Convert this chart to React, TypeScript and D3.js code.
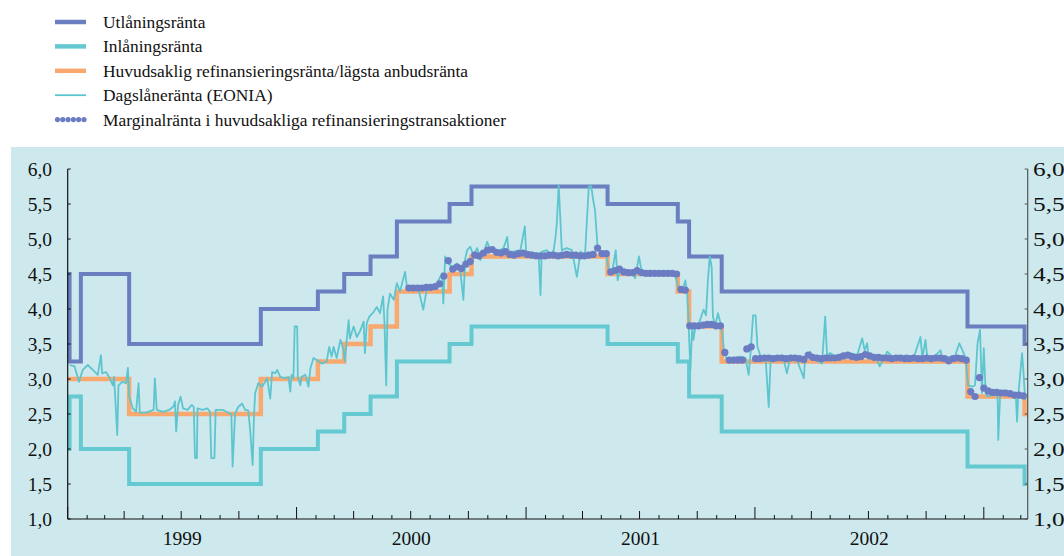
import React from 'react';
import * as d3 from 'd3';

// Styrräntor och dagslåneränta, procent per år
const rateDates = [
  '1999-01-01', '1999-01-04', '1999-01-22', '1999-04-09', '1999-11-05',
  '2000-02-04', '2000-03-17', '2000-04-28', '2000-06-09', '2000-09-01',
  '2000-10-06', '2001-05-11', '2001-08-31', '2001-09-18', '2001-11-09',
  '2002-12-06', '2003-03-07',
];
const lendingRate = [4.5, 3.25, 4.5, 3.5, 4.0, 4.25, 4.5, 4.75, 5.25, 5.5, 5.75, 5.5, 5.25, 4.75, 4.25, 3.75, 3.5];
const depositRate = [2.0, 2.75, 2.0, 1.5, 2.0, 2.25, 2.5, 2.75, 3.25, 3.5, 3.75, 3.5, 3.25, 2.75, 2.25, 1.75, 1.5];
const refiRate = [3.0, 3.0, 3.0, 2.5, 3.0, 3.25, 3.5, 3.75, 4.25, 4.5, 4.75, 4.5, 4.25, 3.75, 3.25, 2.75, 2.5];

// EONIA: [dagar efter 1999-01-01, ränta]
const eonia: [number, number][] = [
  [3, 3.2], [11, 3.18], [18, 2.96], [24, 3.13], [32, 3.2], [40, 3.13], [48, 3.06], [53, 3.34],
  [55, 3.08], [61, 3.1], [66, 3.03], [72, 2.91], [74, 3.03], [79, 2.2], [81, 2.91], [87, 2.96],
  [93, 2.94], [96, 3.16], [98, 2.75], [104, 2.58], [109, 2.53], [113, 2.94], [115, 2.52],
  [125, 2.52], [137, 2.56], [139, 3.01], [142, 2.56], [152, 2.53], [162, 2.56], [169, 2.61],
  [171, 2.68], [173, 2.25], [176, 2.63], [180, 2.75], [184, 2.58], [191, 2.56], [198, 2.63],
  [201, 2.6], [203, 1.87], [206, 1.87], [207, 2.58], [215, 2.56], [223, 2.58], [227, 2.53],
  [229, 1.87], [234, 1.87], [236, 2.56], [247, 2.56], [258, 2.51], [261, 2.5], [263, 1.75],
  [267, 2.51], [272, 2.6], [278, 2.65], [283, 2.56], [288, 2.55], [291, 2.27], [295, 1.77],
  [297, 2.46], [299, 2.8], [304, 2.94], [310, 2.89], [315, 2.96], [318, 3.01], [323, 2.72],
  [326, 3.1], [331, 3.08], [334, 3.13], [339, 3.03], [347, 3.01], [352, 3.03], [355, 2.82],
  [357, 3.06], [360, 3.01], [362, 3.75], [366, 3.75], [367, 3.03], [371, 2.91], [373, 3.03],
  [379, 3.06], [384, 2.89], [387, 3.15], [392, 3.3], [397, 3.27], [405, 3.22], [413, 3.25],
  [417, 3.46], [421, 3.32], [424, 3.46], [429, 3.3], [435, 3.56], [440, 3.41], [442, 3.25],
  [445, 3.56], [448, 3.84], [450, 3.58], [456, 3.75], [461, 3.6], [466, 3.68], [472, 3.82],
  [474, 3.37], [477, 3.8], [481, 3.89], [488, 3.96], [493, 4.03], [498, 3.94], [503, 4.18],
  [505, 3.84], [508, 2.91], [510, 3.99], [514, 4.22], [520, 4.13], [525, 4.37], [530, 4.25],
  [538, 4.53], [541, 4.32], [551, 4.27], [559, 4.3], [567, 3.99], [573, 4.3], [583, 4.32],
  [589, 4.37], [597, 4.51], [599, 4.08], [602, 4.75], [607, 4.65], [613, 4.6], [621, 4.65],
  [626, 4.56], [631, 4.13], [634, 4.72], [637, 4.84], [642, 4.89], [647, 4.77], [653, 4.87],
  [658, 4.7], [663, 4.8], [669, 4.96], [674, 4.84], [685, 4.82], [695, 4.87], [701, 5.03],
  [703, 4.82], [711, 4.82], [722, 4.84], [729, 5.18], [731, 4.82], [743, 4.8], [751, 4.79],
  [754, 4.2], [756, 4.82], [764, 4.84], [770, 4.77], [775, 4.84], [778, 5.03], [780, 5.22],
  [783, 5.77], [786, 5.22], [788, 4.84], [796, 4.87], [804, 4.84], [812, 4.46], [818, 4.82],
  [825, 4.77], [831, 5.75], [835, 5.75], [838, 5.56], [841, 5.41], [845, 4.89], [852, 4.77],
  [859, 4.77], [863, 4.56], [868, 4.51], [874, 4.84], [877, 4.41], [881, 4.56], [889, 4.51],
  [900, 4.51], [905, 4.44], [911, 4.75], [916, 4.51], [924, 4.53], [934, 4.51], [945, 4.53],
  [956, 4.51], [966, 4.53], [971, 4.41], [974, 4.3], [980, 4.25], [985, 4.41], [988, 4.22],
  [990, 3.84], [993, 3.13], [996, 3.75], [998, 3.56], [1001, 3.75], [1006, 3.77], [1012, 3.94],
  [1014, 3.99], [1018, 3.91], [1021, 4.41], [1024, 4.75], [1027, 4.6], [1029, 3.89],
  [1033, 3.77], [1037, 3.94], [1040, 3.84], [1044, 3.65], [1047, 3.37], [1052, 3.27],
  [1062, 3.3], [1073, 3.32], [1081, 3.3], [1086, 3.06], [1089, 3.37], [1093, 3.91], [1097, 3.91],
  [1100, 3.46], [1105, 3.32], [1113, 3.3], [1118, 2.6], [1121, 3.27], [1131, 3.32], [1142, 3.27],
  [1147, 3.08], [1152, 3.3], [1163, 3.27], [1174, 3.01], [1176, 3.3], [1184, 3.39], [1192, 3.27],
  [1198, 3.25], [1203, 3.22], [1208, 3.89], [1211, 3.34], [1216, 3.37], [1227, 3.3], [1238, 3.34],
  [1248, 3.37], [1259, 3.34], [1267, 3.58], [1271, 3.41], [1275, 3.51], [1277, 3.32], [1288, 3.32],
  [1295, 3.18], [1307, 3.39], [1317, 3.3], [1328, 3.32], [1339, 3.34], [1349, 3.3], [1360, 3.6],
  [1363, 3.3], [1368, 3.56], [1371, 3.3], [1382, 3.32], [1392, 3.41], [1395, 3.3], [1403, 3.32],
  [1414, 3.3], [1422, 3.51], [1427, 3.41], [1432, 3.3], [1436, 2.91], [1443, 2.89], [1447, 2.91],
  [1451, 3.51], [1455, 3.7], [1458, 2.8], [1461, 3.44], [1464, 2.8], [1467, 2.75], [1475, 2.77],
  [1483, 2.78], [1484, 2.13], [1487, 2.77], [1493, 2.84], [1501, 2.8], [1509, 2.77], [1512, 2.78],
  [1514, 2.39], [1516, 2.77], [1522, 3.37], [1524, 3.13], [1527, 2.7],
];

// Marginalränta vid veckoanbud (från 28 juni 2000)
const tenderStart = '2000-06-28';
const marginalRate = [
  4.3, 4.3, 4.3, 4.3, 4.31, 4.31, 4.32, 4.36, 4.47, 4.69, 4.57, 4.6, 4.58, 4.64, 4.68, 4.77,
  4.76, 4.8, 4.84, 4.85, 4.81, 4.8, 4.82, 4.78, 4.77, 4.79, 4.8, 4.78, 4.77, 4.76, 4.76, 4.76,
  4.77, 4.77, 4.76, 4.77, 4.78, 4.77, 4.77, 4.76, 4.76, 4.77, 4.78, 4.87, 4.79, 4.79, 4.53,
  4.55, 4.57, 4.53, 4.52, 4.52, 4.55, 4.52, 4.51, 4.51, 4.51, 4.51, 4.51, 4.51, 4.51, 4.5,
  4.28, 4.27, 3.76, 3.76, 3.76, 3.77, 3.78, 3.78, 3.76, 3.76, 3.38, 3.27, 3.27, 3.27, 3.27,
  3.43, 3.46, 3.29, 3.29, 3.3, 3.3, 3.29, 3.3, 3.3, 3.29, 3.3, 3.3, 3.29, 3.28, 3.34, 3.31,
  3.3, 3.29, 3.3, 3.3, 3.3, 3.31, 3.33, 3.34, 3.32, 3.31, 3.32, 3.35, 3.33, 3.31, 3.31, 3.3,
  3.3, 3.29, 3.3, 3.3, 3.29, 3.29, 3.3, 3.29, 3.29, 3.3, 3.29, 3.3, 3.3, 3.29, 3.26, 3.29,
  3.3, 3.29, 3.27, 2.82, 2.75, 3.02, 2.87, 2.83, 2.81, 2.81, 2.8, 2.8, 2.79, 2.77, 2.77, 2.76,
];

const yTicks = [1.0, 1.5, 2.0, 2.5, 3.0, 3.5, 4.0, 4.5, 5.0, 5.5, 6.0];
const years = [1999, 2000, 2001, 2002];

const C_LEND = '#6b7fc0';
const C_DEP = '#65c9d1';
const C_REFI = '#f9a870';
const C_EONIA = '#5ec5ce';
const C_DOT = '#6b7cc2';
const BG = '#cde9ee';
const FONT = '"Liberation Serif", "Times New Roman", serif';

const parse = d3.timeParse('%Y-%m-%d');
const fmt = (t: number) => d3.format('.1f')(t).replace('.', ',');

export default function App() {
  const width = 1064;
  const height = 556;
  const left = 67.7;
  const right = 1027.7;
  const top = 169;
  const bottom = 519;

  const start = parse('1999-01-01') as Date;
  const end = parse('2003-03-12') as Date;

  const x = d3.scaleTime().domain([start, end]).range([left, right]);
  const y = d3.scaleLinear().domain([1, 6]).range([bottom, top]);

  const stepLine = d3
    .line<[Date, number]>()
    .x((d) => x(d[0]))
    .y((d) => y(d[1]))
    .curve(d3.curveStepAfter);

  const stepData = (vals: number[]): [Date, number][] => {
    const pts: [Date, number][] = rateDates.map((s, i) => [parse(s) as Date, vals[i]]);
    pts.push([end, vals[vals.length - 1]]);
    return pts;
  };

  const eoniaLine = d3
    .line<[number, number]>()
    .x((d) => x(d3.timeDay.offset(start, d[0])))
    .y((d) => y(d[1]));

  const tender0 = parse(tenderStart) as Date;
  const dots = marginalRate.map((v, i) => ({ date: d3.timeWeek.offset(tender0, i), v }));

  const months = d3.timeMonth.range(start, end);

  const legend = [
    { label: 'Utlåningsränta', kind: 'line', color: C_LEND, w: 4.5 },
    { label: 'Inlåningsränta', kind: 'line', color: C_DEP, w: 4.5 },
    { label: 'Huvudsaklig refinansieringsränta/lägsta anbudsränta', kind: 'line', color: C_REFI, w: 4.5 },
    { label: 'Dagslåneränta (EONIA)', kind: 'line', color: C_EONIA, w: 1.8 },
    { label: 'Marginalränta i huvudsakliga refinansieringstransaktioner', kind: 'dots', color: C_DOT, w: 0 },
  ];

  return (
    <svg
      width={width}
      height={height}
      style={{ position: 'absolute', left: 0, top: 0, display: 'block' }}
      fontFamily={FONT}
    >
      <rect x={0} y={0} width={width} height={height} fill="#fff" />

      {/* legend */}
      {legend.map((l, i) => {
        const ly = 22 + i * 24.4;
        return (
          <g key={l.label}>
            {l.kind === 'line' ? (
              <line x1={55} x2={86} y1={ly} y2={ly} stroke={l.color} strokeWidth={l.w} />
            ) : (
              d3.range(6).map((k) => (
                <circle key={k} cx={57.5 + k * 5.3} cy={ly} r={2.6} fill={l.color} />
              ))
            )}
            <text x={103} y={ly} dy="0.35em" fontSize={17.4} fill="#111">
              {l.label}
            </text>
          </g>
        );
      })}

      {/* panel */}
      <rect x={11} y={147} width={width - 11} height={height - 147} fill={BG} />

      {/* rate corridors */}
      <path d={stepLine(stepData(depositRate)) || ''} fill="none" stroke={C_DEP} strokeWidth={4} />
      <path d={stepLine(stepData(lendingRate)) || ''} fill="none" stroke={C_LEND} strokeWidth={4} />
      <path d={stepLine(stepData(refiRate)) || ''} fill="none" stroke={C_REFI} strokeWidth={4.5} />
      <path d={eoniaLine(eonia) || ''} fill="none" stroke={C_EONIA} strokeWidth={1.8} strokeLinejoin="round" />
      {dots.map((d, i) => (
        <circle key={i} cx={x(d.date)} cy={y(d.v)} r={3.6} fill={C_DOT} />
      ))}

      {/* axes */}
      <line x1={left} x2={left} y1={top} y2={bottom} stroke="#111" strokeWidth={1.2} />
      <line x1={right} x2={right} y1={top} y2={bottom} stroke="#555" strokeWidth={1.2} />
      <line x1={left} x2={right} y1={bottom} y2={bottom} stroke="#111" strokeWidth={1.2} />
      {yTicks.map((t) => (
        <g key={t}>
          <line x1={left} x2={left + 3} y1={y(t)} y2={y(t)} stroke="#111" />
          <line x1={right - 3} x2={right} y1={y(t)} y2={y(t)} stroke="#555" />
          <text x={52} y={y(t)} dy="0.35em" textAnchor="end" fontSize={19.5} fill="#111">
            {fmt(t)}
          </text>
          <text
            x={0}
            y={0}
            dy="0.35em"
            fontSize={19.5}
            fill="#111"
            transform={`translate(1033,${y(t)}) scale(1.3,1)`}
          >
            {fmt(t)}
          </text>
        </g>
      ))}
      {months.map((m) => {
        const mo = m.getMonth();
        const len = mo === 0 ? 12 : mo % 3 === 0 ? 8 : 4;
        return (
          <line key={m.getTime()} x1={x(m)} x2={x(m)} y1={bottom} y2={bottom - len} stroke="#111" />
        );
      })}
      {years.map((yr) => {
        const a = x(new Date(yr, 0, 1));
        const b = x(new Date(yr + 1, 0, 1));
        return (
          <text key={yr} x={(a + b) / 2} y={538} dy="0.35em" textAnchor="middle" fontSize={19.5} fill="#111">
            {yr}
          </text>
        );
      })}
    </svg>
  );
}
